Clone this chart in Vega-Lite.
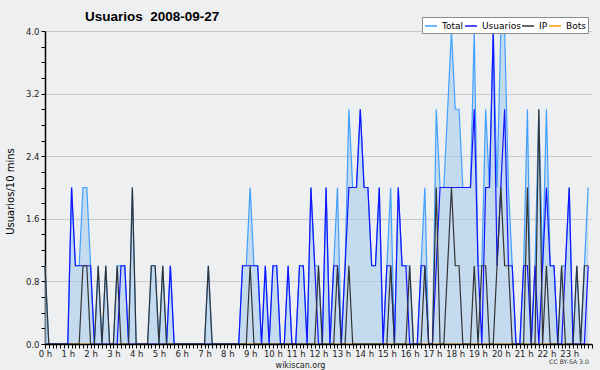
{
"$schema": "https://vega.github.io/schema/vega-lite/v6.json",
"width": 547, "height": 313,
"autosize": {"type": "none"},
"padding": {"left": 45, "top": 31, "right": 8, "bottom": 26},
"background": "#eeeff1",
"title": {"text": "Usuarios \u00a02008-09-27", "anchor": "start", "frame": "group", "dx": 40, "dy": 14, "offset": 7, "font": "Liberation Sans", "fontSize": 13.5, "fontWeight": "bold", "color": "#000000"},
"data": {"values": [
{"t":0,"Total":1,"Usuarios":0,"IP":1,"Bots":0},
{"t":10,"Total":0,"Usuarios":0,"IP":0,"Bots":0},
{"t":20,"Total":0,"Usuarios":0,"IP":0,"Bots":0},
{"t":30,"Total":0,"Usuarios":0,"IP":0,"Bots":0},
{"t":40,"Total":0,"Usuarios":0,"IP":0,"Bots":0},
{"t":50,"Total":0,"Usuarios":0,"IP":0,"Bots":0},
{"t":60,"Total":0,"Usuarios":0,"IP":0,"Bots":0},
{"t":70,"Total":2,"Usuarios":2,"IP":0,"Bots":0},
{"t":80,"Total":1,"Usuarios":1,"IP":0,"Bots":0},
{"t":90,"Total":1,"Usuarios":1,"IP":0,"Bots":0},
{"t":100,"Total":2,"Usuarios":1,"IP":1,"Bots":0},
{"t":110,"Total":2,"Usuarios":1,"IP":1,"Bots":0},
{"t":120,"Total":1,"Usuarios":1,"IP":0,"Bots":0},
{"t":130,"Total":0,"Usuarios":0,"IP":0,"Bots":0},
{"t":140,"Total":1,"Usuarios":0,"IP":1,"Bots":0},
{"t":150,"Total":0,"Usuarios":0,"IP":0,"Bots":0},
{"t":160,"Total":1,"Usuarios":0,"IP":1,"Bots":0},
{"t":170,"Total":0,"Usuarios":0,"IP":0,"Bots":0},
{"t":180,"Total":0,"Usuarios":0,"IP":0,"Bots":0},
{"t":190,"Total":1,"Usuarios":0,"IP":1,"Bots":0},
{"t":200,"Total":1,"Usuarios":1,"IP":0,"Bots":0},
{"t":210,"Total":1,"Usuarios":1,"IP":0,"Bots":0},
{"t":220,"Total":0,"Usuarios":0,"IP":0,"Bots":0},
{"t":230,"Total":2,"Usuarios":0,"IP":2,"Bots":0},
{"t":240,"Total":0,"Usuarios":0,"IP":0,"Bots":0},
{"t":250,"Total":0,"Usuarios":0,"IP":0,"Bots":0},
{"t":260,"Total":0,"Usuarios":0,"IP":0,"Bots":0},
{"t":270,"Total":0,"Usuarios":0,"IP":0,"Bots":0},
{"t":280,"Total":1,"Usuarios":0,"IP":1,"Bots":0},
{"t":290,"Total":1,"Usuarios":0,"IP":1,"Bots":0},
{"t":300,"Total":0,"Usuarios":0,"IP":0,"Bots":0},
{"t":310,"Total":1,"Usuarios":0,"IP":1,"Bots":0},
{"t":320,"Total":0,"Usuarios":0,"IP":0,"Bots":0},
{"t":330,"Total":1,"Usuarios":1,"IP":0,"Bots":0},
{"t":340,"Total":0,"Usuarios":0,"IP":0,"Bots":0},
{"t":350,"Total":0,"Usuarios":0,"IP":0,"Bots":0},
{"t":360,"Total":0,"Usuarios":0,"IP":0,"Bots":0},
{"t":370,"Total":0,"Usuarios":0,"IP":0,"Bots":0},
{"t":380,"Total":0,"Usuarios":0,"IP":0,"Bots":0},
{"t":390,"Total":0,"Usuarios":0,"IP":0,"Bots":0},
{"t":400,"Total":0,"Usuarios":0,"IP":0,"Bots":0},
{"t":410,"Total":0,"Usuarios":0,"IP":0,"Bots":0},
{"t":420,"Total":0,"Usuarios":0,"IP":0,"Bots":0},
{"t":430,"Total":1,"Usuarios":0,"IP":1,"Bots":0},
{"t":440,"Total":0,"Usuarios":0,"IP":0,"Bots":0},
{"t":450,"Total":0,"Usuarios":0,"IP":0,"Bots":0},
{"t":460,"Total":0,"Usuarios":0,"IP":0,"Bots":0},
{"t":470,"Total":0,"Usuarios":0,"IP":0,"Bots":0},
{"t":480,"Total":0,"Usuarios":0,"IP":0,"Bots":0},
{"t":490,"Total":0,"Usuarios":0,"IP":0,"Bots":0},
{"t":500,"Total":0,"Usuarios":0,"IP":0,"Bots":0},
{"t":510,"Total":0,"Usuarios":0,"IP":0,"Bots":0},
{"t":520,"Total":1,"Usuarios":1,"IP":0,"Bots":0},
{"t":530,"Total":1,"Usuarios":1,"IP":0,"Bots":0},
{"t":540,"Total":2,"Usuarios":1,"IP":1,"Bots":0},
{"t":550,"Total":1,"Usuarios":1,"IP":0,"Bots":0},
{"t":560,"Total":1,"Usuarios":1,"IP":0,"Bots":0},
{"t":570,"Total":0,"Usuarios":0,"IP":0,"Bots":0},
{"t":580,"Total":1,"Usuarios":1,"IP":0,"Bots":0},
{"t":590,"Total":0,"Usuarios":0,"IP":0,"Bots":0},
{"t":600,"Total":1,"Usuarios":1,"IP":0,"Bots":0},
{"t":610,"Total":1,"Usuarios":1,"IP":0,"Bots":0},
{"t":620,"Total":0,"Usuarios":0,"IP":0,"Bots":0},
{"t":630,"Total":0,"Usuarios":0,"IP":0,"Bots":0},
{"t":640,"Total":1,"Usuarios":1,"IP":0,"Bots":0},
{"t":650,"Total":0,"Usuarios":0,"IP":0,"Bots":0},
{"t":660,"Total":0,"Usuarios":0,"IP":0,"Bots":0},
{"t":670,"Total":1,"Usuarios":1,"IP":0,"Bots":0},
{"t":680,"Total":1,"Usuarios":1,"IP":0,"Bots":0},
{"t":690,"Total":0,"Usuarios":0,"IP":0,"Bots":0},
{"t":700,"Total":2,"Usuarios":2,"IP":0,"Bots":0},
{"t":710,"Total":1,"Usuarios":1,"IP":0,"Bots":0},
{"t":720,"Total":1,"Usuarios":0,"IP":1,"Bots":0},
{"t":730,"Total":0,"Usuarios":0,"IP":0,"Bots":0},
{"t":740,"Total":2,"Usuarios":2,"IP":0,"Bots":0},
{"t":750,"Total":0,"Usuarios":0,"IP":0,"Bots":0},
{"t":760,"Total":1,"Usuarios":1,"IP":0,"Bots":0},
{"t":770,"Total":2,"Usuarios":1,"IP":1,"Bots":0},
{"t":780,"Total":0,"Usuarios":0,"IP":0,"Bots":0},
{"t":790,"Total":1,"Usuarios":1,"IP":0,"Bots":0},
{"t":800,"Total":3,"Usuarios":2,"IP":1,"Bots":0},
{"t":810,"Total":2,"Usuarios":2,"IP":0,"Bots":0},
{"t":820,"Total":2,"Usuarios":2,"IP":0,"Bots":0},
{"t":830,"Total":3,"Usuarios":3,"IP":0,"Bots":0},
{"t":840,"Total":2,"Usuarios":2,"IP":0,"Bots":0},
{"t":850,"Total":2,"Usuarios":2,"IP":0,"Bots":0},
{"t":860,"Total":1,"Usuarios":1,"IP":0,"Bots":0},
{"t":870,"Total":1,"Usuarios":1,"IP":0,"Bots":0},
{"t":880,"Total":2,"Usuarios":2,"IP":0,"Bots":0},
{"t":890,"Total":0,"Usuarios":0,"IP":0,"Bots":0},
{"t":900,"Total":1,"Usuarios":1,"IP":0,"Bots":0},
{"t":910,"Total":2,"Usuarios":1,"IP":1,"Bots":0},
{"t":920,"Total":0,"Usuarios":0,"IP":0,"Bots":0},
{"t":930,"Total":2,"Usuarios":2,"IP":0,"Bots":0},
{"t":940,"Total":1,"Usuarios":1,"IP":0,"Bots":0},
{"t":950,"Total":1,"Usuarios":1,"IP":0,"Bots":0},
{"t":960,"Total":1,"Usuarios":0,"IP":1,"Bots":0},
{"t":970,"Total":0,"Usuarios":0,"IP":0,"Bots":0},
{"t":980,"Total":0,"Usuarios":0,"IP":0,"Bots":0},
{"t":990,"Total":1,"Usuarios":1,"IP":0,"Bots":0},
{"t":1000,"Total":2,"Usuarios":1,"IP":1,"Bots":0},
{"t":1010,"Total":0,"Usuarios":0,"IP":0,"Bots":0},
{"t":1020,"Total":0,"Usuarios":0,"IP":0,"Bots":0},
{"t":1030,"Total":3,"Usuarios":1,"IP":2,"Bots":0},
{"t":1040,"Total":2,"Usuarios":2,"IP":0,"Bots":0},
{"t":1050,"Total":2,"Usuarios":2,"IP":0,"Bots":0},
{"t":1060,"Total":3,"Usuarios":2,"IP":1,"Bots":0},
{"t":1070,"Total":4,"Usuarios":2,"IP":2,"Bots":0},
{"t":1080,"Total":3,"Usuarios":2,"IP":1,"Bots":0},
{"t":1090,"Total":3,"Usuarios":2,"IP":1,"Bots":0},
{"t":1100,"Total":2,"Usuarios":2,"IP":0,"Bots":0},
{"t":1110,"Total":2,"Usuarios":2,"IP":0,"Bots":0},
{"t":1120,"Total":2,"Usuarios":2,"IP":0,"Bots":0},
{"t":1130,"Total":4,"Usuarios":3,"IP":1,"Bots":0},
{"t":1140,"Total":1,"Usuarios":1,"IP":0,"Bots":0},
{"t":1150,"Total":1,"Usuarios":0,"IP":1,"Bots":0},
{"t":1160,"Total":3,"Usuarios":2,"IP":1,"Bots":0},
{"t":1170,"Total":2,"Usuarios":2,"IP":0,"Bots":0},
{"t":1180,"Total":4,"Usuarios":4,"IP":0,"Bots":0},
{"t":1190,"Total":2,"Usuarios":1,"IP":1,"Bots":0},
{"t":1200,"Total":4,"Usuarios":2,"IP":2,"Bots":0},
{"t":1210,"Total":4,"Usuarios":3,"IP":1,"Bots":0},
{"t":1220,"Total":2,"Usuarios":1,"IP":1,"Bots":0},
{"t":1230,"Total":1,"Usuarios":1,"IP":0,"Bots":0},
{"t":1240,"Total":0,"Usuarios":0,"IP":0,"Bots":0},
{"t":1250,"Total":0,"Usuarios":0,"IP":0,"Bots":0},
{"t":1260,"Total":1,"Usuarios":1,"IP":0,"Bots":0},
{"t":1270,"Total":3,"Usuarios":1,"IP":2,"Bots":0},
{"t":1280,"Total":0,"Usuarios":0,"IP":0,"Bots":0},
{"t":1290,"Total":1,"Usuarios":1,"IP":0,"Bots":0},
{"t":1300,"Total":3,"Usuarios":0,"IP":3,"Bots":0},
{"t":1310,"Total":1,"Usuarios":1,"IP":0,"Bots":0},
{"t":1320,"Total":3,"Usuarios":2,"IP":1,"Bots":0},
{"t":1330,"Total":1,"Usuarios":1,"IP":0,"Bots":0},
{"t":1340,"Total":1,"Usuarios":1,"IP":0,"Bots":0},
{"t":1350,"Total":0,"Usuarios":0,"IP":0,"Bots":0},
{"t":1360,"Total":1,"Usuarios":0,"IP":1,"Bots":0},
{"t":1370,"Total":1,"Usuarios":1,"IP":0,"Bots":0},
{"t":1380,"Total":2,"Usuarios":2,"IP":0,"Bots":0},
{"t":1390,"Total":0,"Usuarios":0,"IP":0,"Bots":0},
{"t":1400,"Total":1,"Usuarios":0,"IP":1,"Bots":0},
{"t":1410,"Total":0,"Usuarios":0,"IP":0,"Bots":0},
{"t":1420,"Total":1,"Usuarios":0,"IP":1,"Bots":0},
{"t":1430,"Total":2,"Usuarios":1,"IP":1,"Bots":0}
]},
"layer": [
  {"mark": {"type": "area", "interpolate": "linear", "color": "#a8cdef", "opacity": 0.6},
   "encoding": {
    "x": {"field": "t", "type": "quantitative",
      "scale": {"domain": [0, 1440], "nice": false, "zero": false},
      "axis": {"tickCount": 144, "labelExpr": "datum.value % 60 == 0 && datum.value < 1440 ? (datum.value / 60) + ' h' : ''",
        "labelOverlap": false, "labelFlush": false, "labelBound": false, "grid": false,
        "domainColor": "#000000", "domainWidth": 1.5, "tickColor": "#000000", "tickSize": 4, "tickWidth": 1,
        "labelFont": "DejaVu Sans", "labelFontSize": 8.5, "labelColor": "#222222", "labelPadding": 1,
        "title": "wikiscan.org", "titleFont": "DejaVu Sans", "titleFontSize": 8, "titleFontWeight": "normal",
        "titleColor": "#222222", "titlePadding": 4, "titleX": 255, "zindex": 1}},
    "y": {"field": "Total", "type": "quantitative",
     "scale": {"domain": [0, 4], "nice": false},
     "title": "Usuarios/10 mins",
     "axis": {"tickCount": 20, "labelExpr": "abs(datum.value*1.25 - round(datum.value*1.25)) < 0.01 ? format(datum.value, '.1f') : ''",
       "labelOverlap": false, "labelFlush": false, "labelBound": false,
       "grid": true, "gridColor": "#c8c8c8", "gridWidth": 1,
       "gridOpacity": {"condition": {"test": "abs(datum.value*1.25 - round(datum.value*1.25)) < 0.01 && datum.value > 0", "value": 1}, "value": 0},
       "tickSize": 4,
       "domainColor": "#000000", "domainWidth": 1.5, "tickColor": "#000000",
       "labelFont": "DejaVu Sans", "labelFontSize": 8.5, "labelColor": "#222222", "labelPadding": 2,
       "titleFont": "DejaVu Sans", "titleFontSize": 10, "titleFontWeight": "normal", "titleColor": "#000000",
       "titleAngle": -90, "titleX": -35, "titleY": 160, "titleAlign": "center", "titleBaseline": "middle"}}}},
  {"mark": {"type": "line", "interpolate": "linear", "strokeWidth": 1.2},
   "encoding": {"x": {"field": "t", "type": "quantitative"},
     "y": {"field": "Bots", "type": "quantitative", "title": "Usuarios/10 mins"},
     "color": {"datum": "Bots", "type": "nominal",
       "scale": {"domain": ["Total", "Usuarios", "IP", "Bots"], "range": ["#40a0ff", "#1414ff", "#333333", "#ff9900"]},
       "legend": {"title": null, "orient": "none", "legendX": 377, "legendY": -14, "direction": "horizontal",
         "symbolType": "stroke", "symbolSize": 144, "symbolStrokeWidth": 1.5,
         "labelFont": "DejaVu Sans", "labelFontSize": 9, "labelColor": "#000000", "labelOffset": 4,
         "columnPadding": -3, "padding": 2, "fillColor": "#ffffff", "strokeColor": "#8a8a8a"}}}},
  {"mark": {"type": "line", "interpolate": "linear", "strokeWidth": 1.2},
   "encoding": {"x": {"field": "t", "type": "quantitative"},
     "y": {"field": "Total", "type": "quantitative", "title": "Usuarios/10 mins"},
     "color": {"datum": "Total", "type": "nominal"}}},
  {"mark": {"type": "line", "interpolate": "linear", "strokeWidth": 1.2},
   "encoding": {"x": {"field": "t", "type": "quantitative"},
     "y": {"field": "Usuarios", "type": "quantitative", "title": "Usuarios/10 mins"},
     "color": {"datum": "Usuarios", "type": "nominal"}}},
  {"mark": {"type": "line", "interpolate": "linear", "strokeWidth": 1.2},
   "encoding": {"x": {"field": "t", "type": "quantitative"},
     "y": {"field": "IP", "type": "quantitative", "title": "Usuarios/10 mins"},
     "color": {"datum": "IP", "type": "nominal"}}},
  {"data": {"values": [{"nota": "CC BY-SA 3.0"}]},
   "mark": {"type": "text", "align": "right", "baseline": "middle", "font": "DejaVu Sans", "fontSize": 6.2, "color": "#333333"},
   "encoding": {"x": {"datum": 1432, "type": "quantitative"}, "y": {"datum": -0.23, "type": "quantitative"}, "text": {"field": "nota"}}}
],
"config": {"view": {"stroke": null}}
}
